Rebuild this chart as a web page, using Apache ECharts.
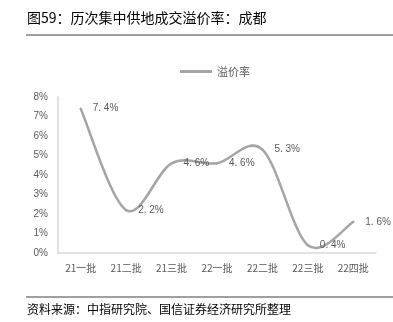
<!DOCTYPE html>
<html>
<head>
<meta charset="utf-8">
<script src="https://cdn.jsdelivr.net/npm/echarts@6/dist/echarts.min.js"></script>
<style>
html,body{margin:0;padding:0;background:#fff;}
#chart{width:393px;height:322px;}
</style>
</head>
<body>
<div id="chart"></div>
<script>
// Land auction premium rate by centralized supply batch, Chengdu
const categories = ['21一批', '21二批', '21三批', '22一批', '22二批', '22三批', '22四批'];
const premiumRate = [7.4, 2.2, 4.6, 4.6, 5.3, 0.4, 1.6];
const yTicks = [0, 1, 2, 3, 4, 5, 6, 7, 8];
const seriesName = '溢价率';
const titleText = '图59：历次集中供地成交溢价率：成都';
const sourceText = '资料来源：中指研究院、国信证券经济研究所整理';

const lineColor = '#a5a5a5';
const chart = echarts.init(document.getElementById('chart'));
const cjk = '"Noto Sans CJK SC", "Noto Sans", sans-serif';

// Catmull-Rom style spline: one cubic Bezier segment per pair of neighbouring points,
// tangents taken from the neighbours so the curve may overshoot like a spreadsheet spline.
function renderSegment(params, api) {
  const i = params.dataIndex;
  const n = premiumRate.length;
  if (i >= n - 1) return null;
  const pt = k => api.coord([Math.max(0, Math.min(n - 1, k)), premiumRate[Math.max(0, Math.min(n - 1, k))]]);
  const p0 = pt(i - 1), p1 = pt(i), p2 = pt(i + 1), p3 = pt(i + 2);
  const t1 = [(p2[0] - p0[0]) / 2, (p2[1] - p0[1]) / 2];
  const t2 = [(p3[0] - p1[0]) / 2, (p3[1] - p1[1]) / 2];
  return {
    type: 'bezierCurve',
    shape: {
      x1: p1[0], y1: p1[1],
      cpx1: p1[0] + t1[0] / 3, cpy1: p1[1] + t1[1] / 3,
      cpx2: p2[0] - t2[0] / 3, cpy2: p2[1] - t2[1] / 3,
      x2: p2[0], y2: p2[1]
    },
    style: { stroke: lineColor, lineWidth: 2.5, fill: null, lineCap: 'round' }
  };
}

chart.setOption({
  animation: false,
  backgroundColor: '#fff',
  graphic: [
    { type: 'text', left: 27, top: 11, style: { text: titleText, font: '14px ' + cjk, fill: '#000' } },
    { type: 'line', shape: { x1: 26, y1: 35, x2: 393, y2: 35 }, style: { stroke: '#404040', lineWidth: 1 } },
    { type: 'line', shape: { x1: 26, y1: 297, x2: 393, y2: 297 }, style: { stroke: '#404040', lineWidth: 1 } },
    { type: 'text', left: 27, top: 303, style: { text: sourceText, font: '12px ' + cjk, fill: '#000' } }
  ],
  legend: {
    top: 61,
    left: 175,
    itemWidth: 32,
    itemHeight: 12,
    itemGap: 4,
    textStyle: { color: '#595959', fontSize: 11, fontFamily: cjk },
    data: [{ name: seriesName, icon: 'path://M0,4.5L32,4.5L32,7.5L0,7.5Z', itemStyle: { color: lineColor, opacity: 1 } }]
  },
  grid: { left: 58, right: 17, top: 97, bottom: 69 },
  xAxis: {
    type: 'category',
    data: categories,
    boundaryGap: true,
    axisLine: { lineStyle: { color: '#d9d9d9', width: 1.5 } },
    axisTick: { show: false },
    axisLabel: { color: '#595959', fontSize: 10, fontFamily: cjk, margin: 10, interval: 0 }
  },
  yAxis: {
    type: 'value',
    min: 0,
    max: 8,
    interval: 1,
    axisLine: { show: true, lineStyle: { color: '#d9d9d9', width: 1.5 } },
    axisTick: { show: false },
    splitLine: { show: false },
    axisLabel: {
      color: '#595959', fontSize: 10, fontFamily: 'Arial, "Liberation Sans", sans-serif', margin: 10,
      formatter: v => yTicks.includes(v) ? v + '%' : ''
    }
  },
  series: [
    {
      name: seriesName,
      type: 'custom',
      coordinateSystem: 'cartesian2d',
      renderItem: renderSegment,
      encode: { x: 0, y: 1 },
      data: premiumRate.map((v, i) => [i, v]),
      z: 2
    },
    {
      // value labels at each batch; the visible curve is drawn by the custom series
      name: seriesName,
      type: 'line',
      data: premiumRate,
      symbol: 'circle',
      symbolSize: 0.01,
      showSymbol: true,
      lineStyle: { color: lineColor, width: 0, opacity: 0 },
      itemStyle: { color: lineColor },
      z: 3,
      label: {
        show: true,
        position: 'right',
        distance: 12,
        color: '#595959',
        fontSize: 10,
        fontFamily: 'Arial, "Liberation Sans", sans-serif',
        formatter: p => p.value.toFixed(1).replace('.', '. ') + '%'
      }
    }
  ]
});
</script>
</body>
</html>
